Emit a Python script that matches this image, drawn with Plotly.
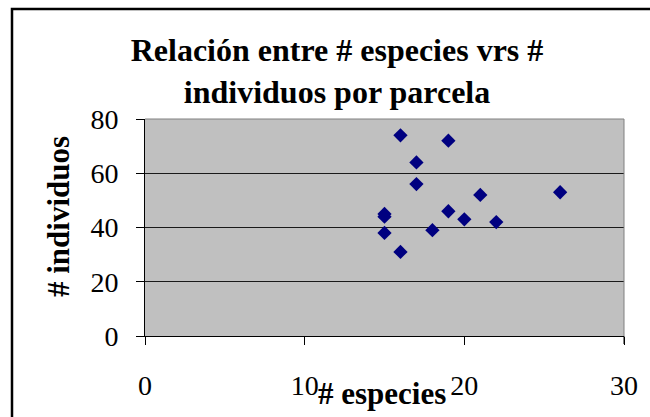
import plotly.graph_objects as go

# Species count and individual count per plot (parcela)
especies = [16, 19, 17, 17, 15, 15, 15, 16, 18, 19, 20, 21, 22, 26]
individuos = [74, 72, 64, 56, 45, 44, 38, 31, 39, 46, 43, 52, 42, 53]

x_ticks = [0, 10, 20, 30]
y_ticks = [0, 20, 40, 60, 80]

serif = "Liberation Serif, Times New Roman, serif"

fig = go.Figure(
    go.Scatter(
        x=especies,
        y=individuos,
        mode="markers",
        marker=dict(symbol="diamond", size=11, color="#000080",
                    line=dict(width=0)),
        hoverinfo="x+y",
    )
)

# plot area geometry in pixels (used to place the frame and labels)
L, R, T, B = 145, 26, 119, 81
W, H = 650, 417
pw, ph = W - L - R, H - T - B


def px_x(p):
    return (p - L) / pw


def px_y(p):
    return (H - B - p) / ph


fig.update_layout(
    width=W,
    height=H,
    margin=dict(l=L, r=R, t=T, b=B),
    paper_bgcolor="white",
    plot_bgcolor="#C0C0C0",
    showlegend=False,
    title=dict(
        text="<b>Relación entre # especies vrs #<br>individuos por parcela</b>",
        font=dict(family=serif, size=32, color="black"),
        xref="container", x=337 / W, xanchor="center",
        yref="container", y=1 - 61 / H, yanchor="middle",
    ),
    xaxis=dict(
        range=[0, 30],
        tickvals=x_ticks,
        ticks="outside", ticklen=8, tickcolor="black", tickwidth=1,
        ticklabelstandoff=16,
        showgrid=False, zeroline=False,
        showline=True, linecolor="black", linewidth=1,
        tickfont=dict(family=serif, size=28, color="black"),
        fixedrange=True,
    ),
    yaxis=dict(
        range=[0, 80],
        tickvals=y_ticks,
        ticks="outside", ticklen=8, tickcolor="black", tickwidth=1,
        ticklabelstandoff=12,
        showgrid=True, gridcolor="#1a1a1a", gridwidth=1,
        zeroline=False,
        showline=True, linecolor="black", linewidth=1,
        tickfont=dict(family=serif, size=28, color="black"),
        fixedrange=True,
    ),
    annotations=[
        dict(
            text="<b># especies</b>",
            xref="paper", yref="paper",
            x=px_x(382), y=px_y(393),
            xanchor="center", yanchor="middle",
            showarrow=False,
            font=dict(family=serif, size=31, color="black"),
        ),
        dict(
            text="<b># individuos</b>",
            xref="paper", yref="paper",
            x=px_x(58), y=px_y(217),
            xanchor="center", yanchor="middle",
            textangle=-90,
            showarrow=False,
            font=dict(family=serif, size=31, color="black"),
        ),
    ],
    shapes=[
        # grey border on top and right of the plot area
        dict(type="line", xref="paper", yref="paper", x0=0, x1=1, y0=1, y1=1,
             line=dict(color="#808080", width=1)),
        dict(type="line", xref="paper", yref="paper", x0=1, x1=1, y0=0, y1=1,
             line=dict(color="#808080", width=1)),
        # right-most tick below the grey border
        dict(type="line", xref="paper", yref="paper", x0=1, x1=1,
             y0=px_y(H - B + 8), y1=0,
             line=dict(color="black", width=1)),
        # outer chart frame
        dict(type="rect", xref="paper", yref="paper",
             x0=px_x(12), x1=px_x(W + 20), y0=px_y(H + 20), y1=px_y(9),
             line=dict(color="black", width=2.5), fillcolor="rgba(0,0,0,0)"),
    ],
)

fig.write_html("out.html")
